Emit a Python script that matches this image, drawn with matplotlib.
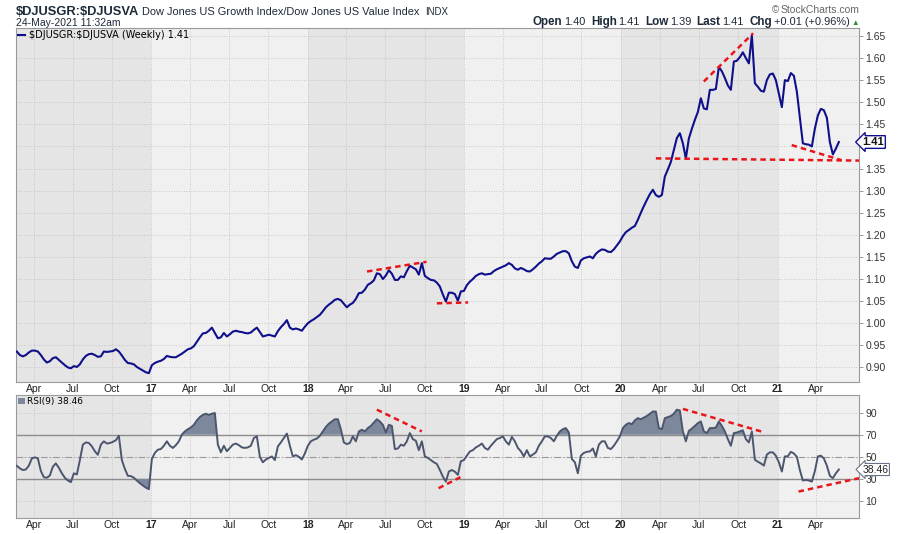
import matplotlib
matplotlib.use("Agg")
import matplotlib.pyplot as plt
import matplotlib.transforms as mtransforms
import numpy as np
import pandas as pd

plt.rcParams['font.family'] = ['Liberation Sans', 'DejaVu Sans']

# weekly bars
dates = pd.date_range("2016-02-22", periods=275, freq="7D")

ratio = [
    0.936, 0.928, 0.925, 0.928, 0.934, 0.938, 0.938, 0.936, 0.928, 0.918,
    0.911, 0.914, 0.921, 0.923, 0.917, 0.911, 0.905, 0.900, 0.898, 0.903,
    0.901, 0.907, 0.918, 0.926, 0.930, 0.931, 0.928, 0.924, 0.925, 0.936,
    0.935, 0.936, 0.937, 0.941, 0.936, 0.927, 0.917, 0.910, 0.909, 0.907,
    0.901, 0.897, 0.893, 0.889, 0.887, 0.905, 0.910, 0.913, 0.915, 0.919,
    0.926, 0.924, 0.923, 0.923, 0.927, 0.931, 0.936, 0.941, 0.943, 0.948,
    0.958, 0.968, 0.977, 0.978, 0.983, 0.990, 0.978, 0.966, 0.968, 0.978,
    0.970, 0.975, 0.981, 0.983, 0.981, 0.980, 0.978, 0.977, 0.979, 0.985,
    0.990, 0.980, 0.970, 0.972, 0.974, 0.972, 0.970, 0.982, 0.991, 0.998,
    1.007, 0.990, 0.986, 0.988, 0.986, 0.983, 0.992, 1.000, 1.005, 1.009,
    1.014, 1.019, 1.027, 1.036, 1.042, 1.047, 1.053, 1.055, 1.052, 1.044,
    1.036, 1.042, 1.046, 1.055, 1.068, 1.069, 1.076, 1.087, 1.091, 1.097,
    1.113, 1.111, 1.100, 1.108, 1.120, 1.112, 1.098, 1.098, 1.106, 1.104,
    1.118, 1.130, 1.126, 1.122, 1.110, 1.136, 1.107, 1.102, 1.098, 1.097,
    1.092, 1.083, 1.065, 1.049, 1.069, 1.069, 1.066, 1.051, 1.072, 1.073,
    1.086, 1.094, 1.100, 1.107, 1.111, 1.113, 1.110, 1.111, 1.112, 1.118,
    1.122, 1.125, 1.128, 1.131, 1.136, 1.132, 1.124, 1.121, 1.125, 1.122,
    1.118, 1.117, 1.122, 1.128, 1.135, 1.140, 1.147, 1.146, 1.146, 1.151,
    1.157, 1.160, 1.163, 1.163, 1.158, 1.140, 1.128, 1.125, 1.142, 1.147,
    1.149, 1.151, 1.147, 1.157, 1.163, 1.167, 1.166, 1.162, 1.161, 1.167,
    1.176, 1.185, 1.197, 1.206, 1.211, 1.216, 1.220, 1.234, 1.250, 1.265,
    1.279, 1.292, 1.302, 1.290, 1.286, 1.290, 1.332, 1.348, 1.365, 1.392,
    1.419, 1.430, 1.407, 1.373, 1.418, 1.440, 1.460, 1.478, 1.509, 1.486,
    1.484, 1.528, 1.528, 1.530, 1.580, 1.570, 1.555, 1.538, 1.528, 1.592,
    1.594, 1.602, 1.613, 1.600, 1.588, 1.652, 1.543, 1.535, 1.526, 1.524,
    1.550, 1.563, 1.565, 1.550, 1.520, 1.489, 1.550, 1.548, 1.566, 1.560,
    1.524, 1.465, 1.407, 1.405, 1.404, 1.400, 1.440, 1.470, 1.485, 1.482,
    1.465, 1.410, 1.382, 1.395, 1.410,
]

rsi = [
    41.8, 39.5, 38.0, 38.5, 42.0, 48.5, 49.5, 48.5, 37.0, 31.5,
    31.0, 33.0, 41.0, 44.0, 40.0, 35.0, 31.0, 28.5, 27.0, 35.0,
    34.0, 47.0, 61.0, 63.0, 62.5, 59.5, 55.0, 51.8, 61.0, 64.0,
    62.0, 62.5, 63.5, 65.0, 69.0, 47.0, 39.0, 32.7, 32.5, 31.0,
    28.5, 26.0, 24.0, 22.0, 20.6, 48.0, 53.5, 56.4, 57.0, 60.0,
    64.0, 60.0, 58.0, 60.5, 64.0, 70.0, 73.0, 75.0, 76.5, 79.0,
    83.0, 86.0, 88.0, 89.0, 88.0, 89.0, 89.7, 61.0, 54.0, 60.0,
    55.0, 58.0, 61.0, 62.0, 60.5, 58.5, 58.0, 58.5, 60.0, 67.0,
    68.5, 50.0, 45.0, 47.5, 49.0, 50.3, 47.0, 59.4, 63.0, 67.0,
    71.0, 60.0, 50.3, 51.5, 50.0, 47.5, 53.0, 60.0, 64.0, 65.5,
    66.5, 69.0, 73.0, 77.0, 80.0, 82.0, 84.0, 84.0, 75.0, 63.0,
    61.5, 62.5, 68.5, 64.0, 73.0, 74.5, 73.0, 76.0, 78.0, 81.0,
    84.0, 82.0, 79.0, 72.0, 79.0, 78.0, 57.0, 57.5, 61.0, 60.0,
    64.0, 71.5, 66.0, 64.5, 56.0, 64.0, 50.3, 49.0, 47.0, 45.0,
    43.5, 38.0, 32.0, 27.5, 36.6, 38.0, 36.5, 33.6, 46.0, 47.0,
    51.0, 54.8, 56.0, 58.5, 60.0, 62.0, 58.0, 56.4, 60.0, 63.0,
    66.0, 67.0, 68.5, 64.0, 61.0, 68.0, 64.0, 58.0, 55.0, 50.3,
    56.0, 50.3, 52.0, 54.0, 60.0, 64.0, 68.5, 68.5, 67.0, 64.0,
    69.0, 73.0, 75.0, 76.0, 72.0, 48.0, 45.0, 35.0, 51.0, 53.5,
    54.5, 54.8, 57.5, 50.3, 61.0, 64.0, 64.0, 58.0, 57.0, 60.0,
    64.0, 68.5, 76.0, 79.0, 80.6, 79.5, 83.0, 85.0, 84.0, 85.5,
    87.0, 89.0, 91.0, 91.0, 76.0, 75.0, 85.0, 86.0, 87.0, 89.0,
    92.7, 92.0, 73.0, 64.0, 73.5, 75.5, 78.0, 80.5, 82.0, 73.0,
    71.5, 76.0, 76.0, 76.5, 82.0, 78.0, 73.0, 66.0, 60.0, 71.5,
    72.0, 73.0, 74.0, 66.0, 63.0, 73.0, 47.3, 45.5, 44.0, 42.0,
    52.0, 54.0, 54.0, 51.0, 45.0, 36.6, 50.3, 50.5, 54.5, 53.0,
    50.0, 38.0, 28.5, 29.0, 28.5, 27.5, 37.0, 50.3, 51.0, 48.5,
    42.0, 32.7, 30.6, 35.0, 38.46,
]

# hand-drawn trendlines (start date, value, end date, value)
price_trends = [
    ("2018-05-19", 1.117, "2018-10-05", 1.139),
    ("2018-10-29", 1.045, "2019-01-10", 1.047),
    ("2020-07-13", 1.547, "2020-11-05", 1.656),
    ("2020-03-23", 1.373, "2021-07-10", 1.368),
    ("2021-02-03", 1.403, "2021-05-30", 1.369),
]
rsi_trends = [
    ("2018-06-11", 92.7, "2018-09-24", 73.0),
    ("2018-11-02", 21.5, "2018-12-29", 32.7),
    ("2020-05-25", 93.4, "2020-11-28", 72.5),
    ("2021-02-19", 18.5, "2021-07-10", 30.6),
]

price_ticks = [0.90, 0.95, 1.00, 1.05, 1.10, 1.15, 1.20, 1.25, 1.30, 1.35,
               1.45, 1.50, 1.55, 1.60, 1.65]
rsi_ticks = [10, 30, 50, 70, 90]

ratio = np.array(ratio)
rsi = np.array(rsi)

NAVY = "#0f0f8c"
SLATE = "#4b566e"
FILL = "#7e889c"
RED = "#e8161b"
DARK_BG = "#e5e5e5"
LIGHT_BG = "#f0f0f0"
GRID = "#bdbdbd"

fig = plt.figure(figsize=(9, 5.34), dpi=100)
ax1 = fig.add_axes([16 / 900, 152 / 534, 843 / 900, 354 / 534])
ax2 = fig.add_axes([16 / 900, 16 / 534, 843 / 900, 123 / 534])

xmin = pd.Timestamp("2016-02-20")
xmax = pd.Timestamp("2021-07-10")
month_ticks = pd.date_range("2016-04-01", "2021-04-01", freq="QS-JAN")
month_labels = [("%02d" % (d.year % 100)) if d.month == 1 else d.strftime("%b")
                for d in month_ticks]

for ax in (ax1, ax2):
    ax.set_facecolor(LIGHT_BG)
    for start, end in [(xmin, "2017-01-01"), ("2018-01-01", "2019-01-01"),
                       ("2020-01-01", "2021-01-01")]:
        ax.axvspan(pd.Timestamp(start), pd.Timestamp(end), color=DARK_BG, lw=0, zorder=0)
    ax.set_xlim(xmin, xmax)
    ax.set_xticks(month_ticks)
    ax.set_xticklabels(month_labels)
    for lab, d in zip(ax.get_xticklabels(), month_ticks):
        if d.month == 1:
            lab.set_fontweight("bold")
            lab.set_fontsize(8.5)
    ax.tick_params(axis="x", length=0, pad=1.5, labelsize=7.5, colors="#222222")
    ax.yaxis.tick_right()
    ax.tick_params(axis="y", length=3, width=0.6, color="#888888", pad=1.5,
                   labelsize=7.5, labelcolor="#333333")
    ax.grid(True, color=GRID, lw=0.6, ls=(0, (1, 2)))
    ax.set_axisbelow(True)
    for side, sp in ax.spines.items():
        sp.set_color("#9a9a9a")
        sp.set_linewidth(0.8)
        if side != "left":
            sp.set_linestyle((0, (1, 1)))

# price panel
ax1.plot(dates, ratio, color=NAVY, lw=1.5, zorder=3,
         label=r"\$DJUSGR:\$DJUSVA (Weekly) 1.41")
for d0, v0, d1, v1 in price_trends:
    ax1.plot([pd.Timestamp(d0), pd.Timestamp(d1)], [v0, v1], color=RED, lw=1.8,
             ls=(0, (2.2, 1.6)), zorder=4)
ax1.set_ylim(0.867, 1.668)
ax1.set_yticks(price_ticks)
ax1.set_yticklabels(["%.2f" % t for t in price_ticks])
ax1.axhline(1.40, color=GRID, lw=0.6, ls=(0, (1, 2)), zorder=1)
ax1.legend(loc="upper left", frameon=False, handlelength=0.7,
           handletextpad=0.4, borderaxespad=0.15, borderpad=0.1,
           prop={"family": "DejaVu Sans", "size": 7})
tr1 = mtransforms.blended_transform_factory(ax1.transAxes, ax1.transData)
ax1.text(1.004, ratio[-1], "%.2f" % ratio[-1], transform=tr1, ha="left", va="center",
         fontsize=8, fontweight="bold", color="#111111", zorder=6, clip_on=False,
         bbox=dict(boxstyle="larrow,pad=0.12", fc="white", ec=NAVY, lw=1))

# RSI panel
ax2.fill_between(dates, rsi, 70, where=rsi >= 70, interpolate=True, color=FILL,
                 lw=0, zorder=2, label="RSI(9) 38.46")
ax2.fill_between(dates, rsi, 30, where=rsi <= 30, interpolate=True, color=FILL,
                 lw=0, zorder=2)
ax2.plot(dates, rsi, color=SLATE, lw=1.4, zorder=3)
ax2.axhline(70, color="#8c8c8c", lw=1, zorder=1.5)
ax2.axhline(30, color="#8c8c8c", lw=1, zorder=1.5)
ax2.axhline(50, color="#9a9a9a", lw=0.8, ls=(0, (6, 2, 1, 2)), zorder=1.5)
for d0, v0, d1, v1 in rsi_trends:
    ax2.plot([pd.Timestamp(d0), pd.Timestamp(d1)], [v0, v1], color=RED, lw=1.8,
             ls=(0, (2.2, 1.6)), zorder=4)
ax2.set_ylim(-5.5, 106)
ax2.set_yticks(rsi_ticks)
ax2.set_yticklabels([str(t) for t in rsi_ticks])
ax2.legend(loc="upper left", frameon=False, handlelength=0.8, handleheight=0.6,
           handletextpad=0.2, borderaxespad=0.15, borderpad=0.1,
           prop={"family": "DejaVu Sans", "size": 6.5})
tr2 = mtransforms.blended_transform_factory(ax2.transAxes, ax2.transData)
ax2.text(1.004, rsi[-1], "%.2f" % rsi[-1], transform=tr2, ha="left", va="center",
         fontsize=7.5, color="#222222", zorder=6, clip_on=False,
         bbox=dict(boxstyle="larrow,pad=0.1", fc="white", ec="#6a7388", lw=0.8))

# header text, drawn run by run in pixel coordinates
renderer = fig.canvas.get_renderer()
ident = mtransforms.IdentityTransform()


def draw_runs(x, y, parts, align="left"):
    objs = []
    widths = []
    for text, size, weight, color, gap in parts:
        t = fig.text(0, 0, text, fontsize=size, fontweight=weight, color=color,
                     transform=ident, va="baseline", ha="left")
        widths.append(t.get_window_extent(renderer).width + gap)
        objs.append(t)
    start = x if align == "left" else x - sum(widths)
    for t, w in zip(objs, widths):
        t.set_position((start, y))
        start += w


H = 534
draw_runs(16, H - 15, [
    (r"\$DJUSGR:\$DJUSVA", 9.3, "bold", "#1d2a3a", 3),
    ("Dow Jones US Growth Index/Dow Jones US Value Index", 7.9, "normal", "#1d2a3a", 5),
    ("INDX", 7, "normal", "#1d2a3a", 0),
])
draw_runs(16, H - 26, [("24-May-2021 11:32am", 7.5, "normal", "#1d2a3a", 0)])
draw_runs(859, H - 13, [("\u00a9", 7, "normal", "#666666", 1),
                        ("StockCharts.com", 7.5, "normal", "#666666", 0)], align="right")
draw_runs(859, H - 25, [
    ("Open", 8.4, "bold", "#1d2a3a", 2), ("1.40", 7.9, "normal", "#1d2a3a", 5),
    ("High", 8.4, "bold", "#1d2a3a", 2), ("1.41", 7.9, "normal", "#1d2a3a", 5),
    ("Low", 8.4, "bold", "#1d2a3a", 2), ("1.39", 7.9, "normal", "#1d2a3a", 5),
    ("Last", 8.4, "bold", "#1d2a3a", 2), ("1.41", 7.9, "normal", "#1d2a3a", 5),
    ("Chg", 8.4, "bold", "#1d2a3a", 2), ("+0.01 (+0.96%)", 7.9, "normal", "#1d2a3a", 2),
    ("\u25b2", 5.5, "normal", "#2e8b3a", 0),
], align="right")

fig.savefig("out.png", dpi=100, facecolor="white")
